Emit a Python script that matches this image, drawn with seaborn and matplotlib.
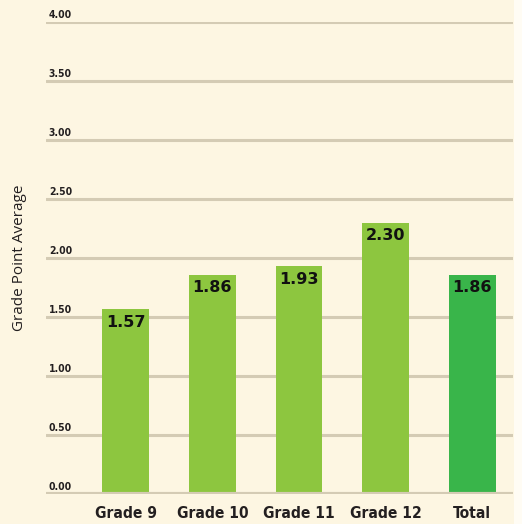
import matplotlib
matplotlib.use("Agg")
import matplotlib.pyplot as plt
import matplotlib.transforms as mtransforms
from matplotlib.patches import Rectangle
import seaborn as sns
import pandas as pd

# Data
grades = ["Grade 9", "Grade 10", "Grade 11", "Grade 12", "Total"]
gpa = [1.57, 1.86, 1.93, 2.30, 1.86]
bar_colors = ["#8dc63f", "#8dc63f", "#8dc63f", "#8dc63f", "#39b54a"]
y_ticks = [0.0, 0.5, 1.0, 1.5, 2.0, 2.5, 3.0, 3.5, 4.0]
y_tick_labels = ["0.00", "0.50", "1.00", "1.50", "2.00", "2.50", "3.00", "3.50", "4.00"]

df = pd.DataFrame({"grade": grades, "gpa": gpa})

sns.set_theme(style="white")
plt.rcParams["font.family"] = ["DejaVu Sans"]

bg = "#fdf6e2"
edge_bg = "#fffcf4"
grid_c = "#d4cbb4"
text_c = "#231f20"

W, H = 522, 524
fig = plt.figure(figsize=(W / 100, H / 100), dpi=100, facecolor=bg)
# pale margin strip on the right edge of the page
fig.patches.append(Rectangle((514 / W, 0), (W - 514) / W, 1, transform=fig.transFigure,
                             facecolor=edge_bg, edgecolor="none", zorder=0))

ax = fig.add_axes([46 / W, (H - 494) / H, (513 - 46) / W, (494 - 22) / H])
ax.set_facecolor(bg)

# horizontal guide lines
for t in y_ticks[1:]:
    ax.axhline(t, color=grid_c, lw=2.2, zorder=0)
ax.axhline(0, color=grid_c, lw=3, zorder=3)

sns.barplot(data=df, x="grade", y="gpa", hue="grade", palette=bar_colors,
            legend=False, width=0.54, saturation=1, linewidth=0, ax=ax, zorder=2)

ax.set_xlim(-0.92, 4.47)
ax.set_ylim(0, 4.0)
for s in ax.spines.values():
    s.set_visible(False)
ax.set_yticks([])
ax.set_xticks(range(len(grades)))
ax.set_xticklabels(grades, fontsize=11.2, fontweight="bold", fontstretch="condensed",
                   color=text_c)
ax.tick_params(axis="x", length=0, pad=9)
ax.set_xlabel("")
ax.set_ylabel("")

# tick values sit above each guide line, at the left end
trans = mtransforms.blended_transform_factory(ax.transAxes, ax.transData)
for t, lab in zip(y_ticks, y_tick_labels):
    ax.text(0.006, t + 0.02, lab, transform=trans, ha="left", va="bottom",
            fontsize=7.5, fontweight="bold", fontstretch="condensed",
            color=text_c, clip_on=False)

# value labels inside the top of each bar
for i, v in enumerate(gpa):
    ax.text(i, v - 0.05, f"{v:.2f}", ha="center", va="top",
            fontsize=11.5, fontweight="bold", color="#111111", zorder=4)

fig.text(20 / W, 1 - 258 / H, "Grade Point Average", rotation=90,
         ha="center", va="center", fontsize=11, color=text_c,
         family=["Open Sans", "DejaVu Sans"])

fig.savefig("out.png", dpi=100, facecolor=bg)
